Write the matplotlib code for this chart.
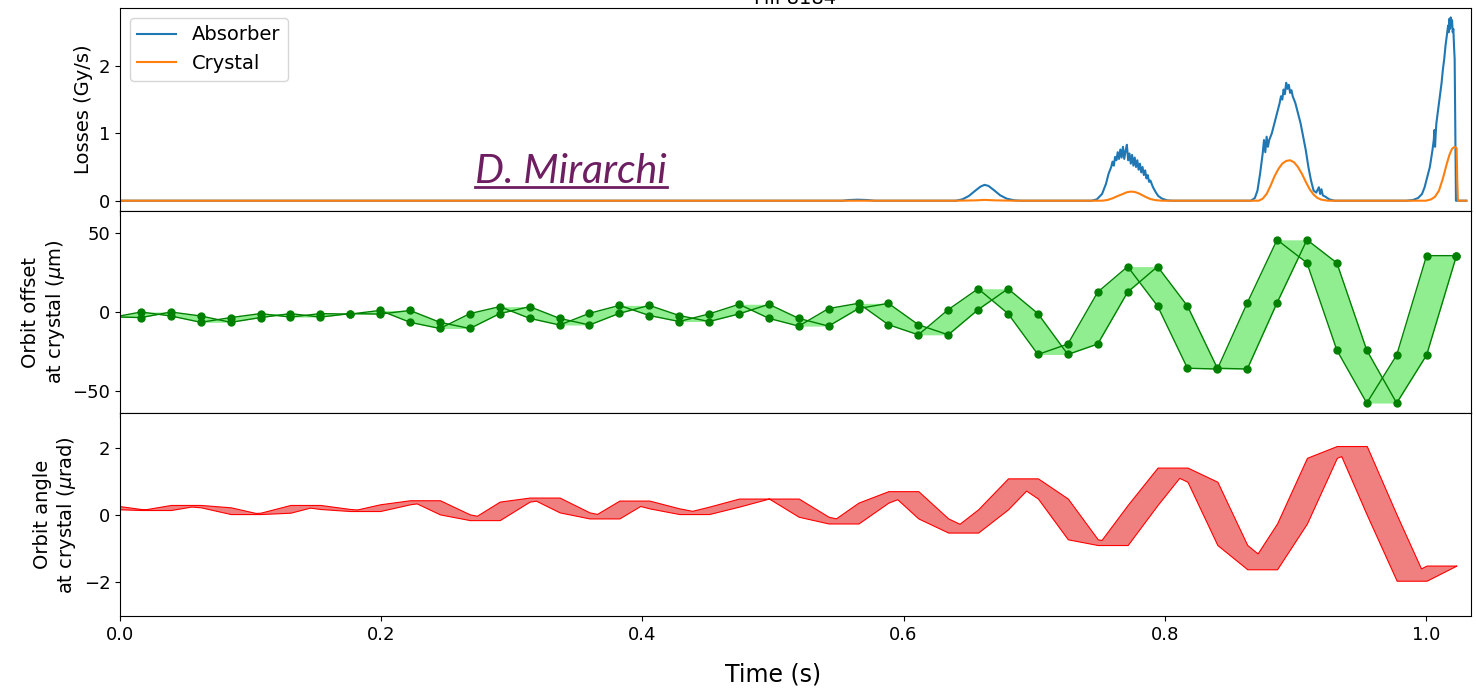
import numpy as np
import matplotlib.pyplot as plt
from matplotlib.lines import Line2D

# BLM loss traces (time in s, losses in Gy/s)
absorber_t = [0.0, 0.553, 0.558, 0.565, 0.572, 0.578,
              0.640, 0.645, 0.650, 0.655, 0.659, 0.662, 0.665, 0.669, 0.674, 0.679, 0.685, 0.690,
              0.744, 0.748, 0.752, 0.755, 0.757, 0.759, 0.760, 0.761, 0.762, 0.763, 0.764, 0.765,
              0.766, 0.767, 0.768, 0.769, 0.770, 0.771, 0.772, 0.773, 0.774, 0.775, 0.776, 0.777,
              0.778, 0.779, 0.780, 0.781, 0.782, 0.783, 0.784, 0.785, 0.786, 0.787, 0.788, 0.789,
              0.791, 0.793, 0.795, 0.798, 0.802, 0.806,
              0.866, 0.869, 0.871, 0.873, 0.875, 0.876, 0.877, 0.878, 0.879, 0.880, 0.882, 0.884,
              0.886, 0.888, 0.889, 0.890, 0.891, 0.892, 0.893, 0.894, 0.895, 0.896, 0.897, 0.898,
              0.900, 0.902, 0.904, 0.906, 0.908, 0.910, 0.912, 0.914, 0.916, 0.918, 0.919, 0.920,
              0.921, 0.923, 0.926, 0.930,
              0.985, 0.990, 0.994, 0.997, 0.999, 1.001, 1.003, 1.004, 1.005, 1.006, 1.0065, 1.007,
              1.0075, 1.008, 1.009, 1.010, 1.011, 1.012, 1.013, 1.014, 1.015, 1.016, 1.017, 1.0175,
              1.018, 1.0185, 1.019, 1.0195, 1.020, 1.0205, 1.021, 1.0215, 1.022, 1.0225, 1.023, 1.031]
absorber_gy = [0.0, 0.0, 0.01, 0.015, 0.01, 0.0,
               0.0, 0.02, 0.07, 0.15, 0.21, 0.235, 0.22, 0.16, 0.08, 0.03, 0.005, 0.0,
               0.0, 0.02, 0.1, 0.25, 0.4, 0.5, 0.58, 0.52, 0.65, 0.6, 0.72, 0.62,
               0.76, 0.64, 0.8, 0.62, 0.74, 0.83, 0.6, 0.7, 0.55, 0.68, 0.52, 0.64,
               0.5, 0.6, 0.46, 0.55, 0.42, 0.5, 0.38, 0.45, 0.33, 0.38, 0.28, 0.3,
               0.2, 0.13, 0.07, 0.03, 0.005, 0.0,
               0.0, 0.04, 0.15, 0.4, 0.7, 0.9, 0.72, 0.95, 0.8, 0.9, 1.0, 1.15,
               1.3, 1.45, 1.55, 1.5, 1.65, 1.58, 1.75, 1.66, 1.72, 1.6, 1.64, 1.55,
               1.45, 1.3, 1.15, 0.95, 0.75, 0.5, 0.3, 0.15, 0.12, 0.2, 0.1, 0.17,
               0.08, 0.06, 0.02, 0.0,
               0.0, 0.01, 0.04, 0.1, 0.2, 0.35, 0.5, 0.62, 0.75, 0.9, 1.05, 0.8,
               1.0, 1.15, 1.3, 1.45, 1.6, 1.75, 1.95, 2.1, 2.3, 2.45, 2.6, 2.5,
               2.7, 2.55, 2.72, 2.6, 2.68, 2.5, 2.55, 2.3, 2.1, 1.0, 0.0, 0.0]

crystal_t = [0.0, 0.640, 0.655, 0.662, 0.670, 0.685,
             0.752, 0.756, 0.760, 0.764, 0.768, 0.771, 0.774, 0.777, 0.780, 0.783, 0.786, 0.789,
             0.793, 0.798,
             0.872, 0.875, 0.878, 0.881, 0.884, 0.887, 0.890, 0.893, 0.896, 0.899, 0.902, 0.905,
             0.908, 0.911, 0.914, 0.917, 0.920, 0.925,
             1.000, 1.004, 1.007, 1.010, 1.013, 1.016, 1.018, 1.020, 1.022, 1.0235, 1.024, 1.0245,
             1.031]
crystal_gy = [0.0, 0.0, 0.005, 0.012, 0.005, 0.0,
              0.0, 0.01, 0.035, 0.07, 0.1, 0.125, 0.135, 0.13, 0.11, 0.08, 0.05, 0.025,
              0.008, 0.0,
              0.0, 0.03, 0.1, 0.22, 0.36, 0.47, 0.55, 0.59, 0.6, 0.57, 0.5, 0.4,
              0.28, 0.17, 0.09, 0.04, 0.015, 0.0,
              0.0, 0.02, 0.06, 0.15, 0.33, 0.55, 0.68, 0.77, 0.8, 0.78, 0.3, 0.0,
              0.0]

# orbit samples: at each sample time the level at that time and the next level
sample_t = [-0.0068, 0.0161, 0.0390, 0.0619, 0.0848, 0.1076, 0.1305, 0.1534, 0.1763, 0.1992,
            0.2221, 0.2450, 0.2679, 0.2908, 0.3137, 0.3366, 0.3595, 0.3824, 0.4053, 0.4282,
            0.4511, 0.4740, 0.4969, 0.5197, 0.5426, 0.5655, 0.5884, 0.6113, 0.6342, 0.6571,
            0.6800, 0.7029, 0.7258, 0.7487, 0.7716, 0.7945, 0.8174, 0.8403, 0.8632, 0.8860,
            0.9089, 0.9318, 0.9547, 0.9776, 1.0005, 1.0234]
offset_um = [-3.0, -3.5, 0.0, -2.5, -6.5, -3.5, -1.0, -3.2, -1.0, -1.3,
             1.0, -6.5, -10.4, -1.0, 3.4, -4.0, -8.2, -0.8, 4.2, -2.2,
             -6.0, -1.2, 4.9, -4.0, -8.9, 2.2, 5.5, -8.0, -14.4, 1.5,
             14.7, -1.0, -26.8, -20.2, 12.6, 28.7, 3.8, -35.5, -36.0, 5.8,
             45.6, 31.0, -24.1, -57.5, -27.2, 35.6, 35.6]
angle_urad = [0.30, 0.18, 0.15, 0.30, 0.23, 0.03, 0.07, 0.30, 0.18, 0.12,
              0.32, 0.44, 0.02, -0.15, 0.40, 0.52, 0.08, -0.10, 0.43, 0.20,
              0.03, 0.25, 0.49, 0.49, -0.05, -0.25, 0.37, 0.71, -0.10, -0.52,
              0.17, 1.09, 0.49, -0.72, -0.89, 0.30, 1.41, 0.99, -0.89, -1.61,
              -0.25, 1.70, 2.05, 0.01, -1.95, -1.50, -1.50]


def envelope(t, levels, n=6000):
    # band covered by the orbit between one sample and the next
    t = np.asarray(t)
    start = np.asarray(levels[:-1])
    end = np.asarray(levels[1:])
    tt = np.linspace(t[0], t[-1], n)
    a = np.interp(tt, t, start)
    b = np.interp(tt, t, end)
    seg = np.clip(np.searchsorted(t, tt, side='right') - 1, 0, len(t) - 2)
    c = end[seg]
    lo = np.minimum(np.minimum(a, b), c)
    hi = np.maximum(np.maximum(a, b), c)
    return tt, lo, hi, start, end


plt.rcParams['font.size'] = 14

fig = plt.figure(figsize=(14.76, 6.93), dpi=100)
ax1, ax2, ax3 = fig.subplots(3, 1, sharex=True)
fig.subplots_adjust(left=0.0813, right=0.9966, top=0.9885, bottom=0.111, hspace=0)

# losses
ax1.plot(absorber_t, absorber_gy, color='tab:blue', lw=1.5, label='Absorber')
ax1.plot(crystal_t, crystal_gy, color='tab:orange', lw=1.5, label='Crystal')
ax1.set_ylim(-0.148, 2.86)
ax1.set_yticks([0, 1, 2])
ax1.set_ylabel('Losses (Gy/s)')
ax1.legend(loc='upper left', fontsize=14)
ax1.set_title('Fill 8184', fontsize=14, pad=3)

# orbit offset
tt, lo, hi, s0, s1 = envelope(sample_t, offset_um)
ax2.fill_between(tt, lo, hi, color='lightgreen', lw=0)
ax2.plot(sample_t, s0, color='green', lw=1.0)
ax2.plot(sample_t, s1, color='green', lw=1.0)
ax2.plot(sample_t, s0, 'o', color='green', ms=5)
ax2.plot(sample_t, s1, 'o', color='green', ms=5)
ax2.set_ylim(-64, 64)
ax2.set_yticks([-50, 0, 50])
ax2.set_ylabel('Orbit offset\nat crystal ($\\mu$m)')

# orbit angle
tt, lo, hi, s0, s1 = envelope(sample_t, angle_urad)
ax3.fill_between(tt, lo, hi, facecolor='lightcoral', edgecolor='red', lw=0.8)
ax3.set_ylim(-3.0, 3.02)
ax3.set_yticks([-2, 0, 2])
ax3.set_ylabel('Orbit angle\nat crystal ($\\mu$rad)')

ax3.set_xlim(0, 1.0345)
ax3.set_xticks([0.0, 0.2, 0.4, 0.6, 0.8, 1.0])
for ax in (ax1, ax2, ax3):
    ax.tick_params(labelsize=13)

fig.text(0.524, 0.017, 'Time (s)', fontsize=17, ha='center', va='baseline')

# author tag
tag_color = '#6d1f62'
fig.text(475 / 1476, 1 - 183 / 693, 'D. Mirarchi', fontsize=29.5, style='italic',
         family='Lato', color=tag_color, ha='left', va='baseline')
fig.add_artist(Line2D([475 / 1476, 667 / 1476], [1 - 187 / 693, 1 - 187 / 693],
                      transform=fig.transFigure, color=tag_color, lw=2))

fig.savefig('out.png', dpi=100)
